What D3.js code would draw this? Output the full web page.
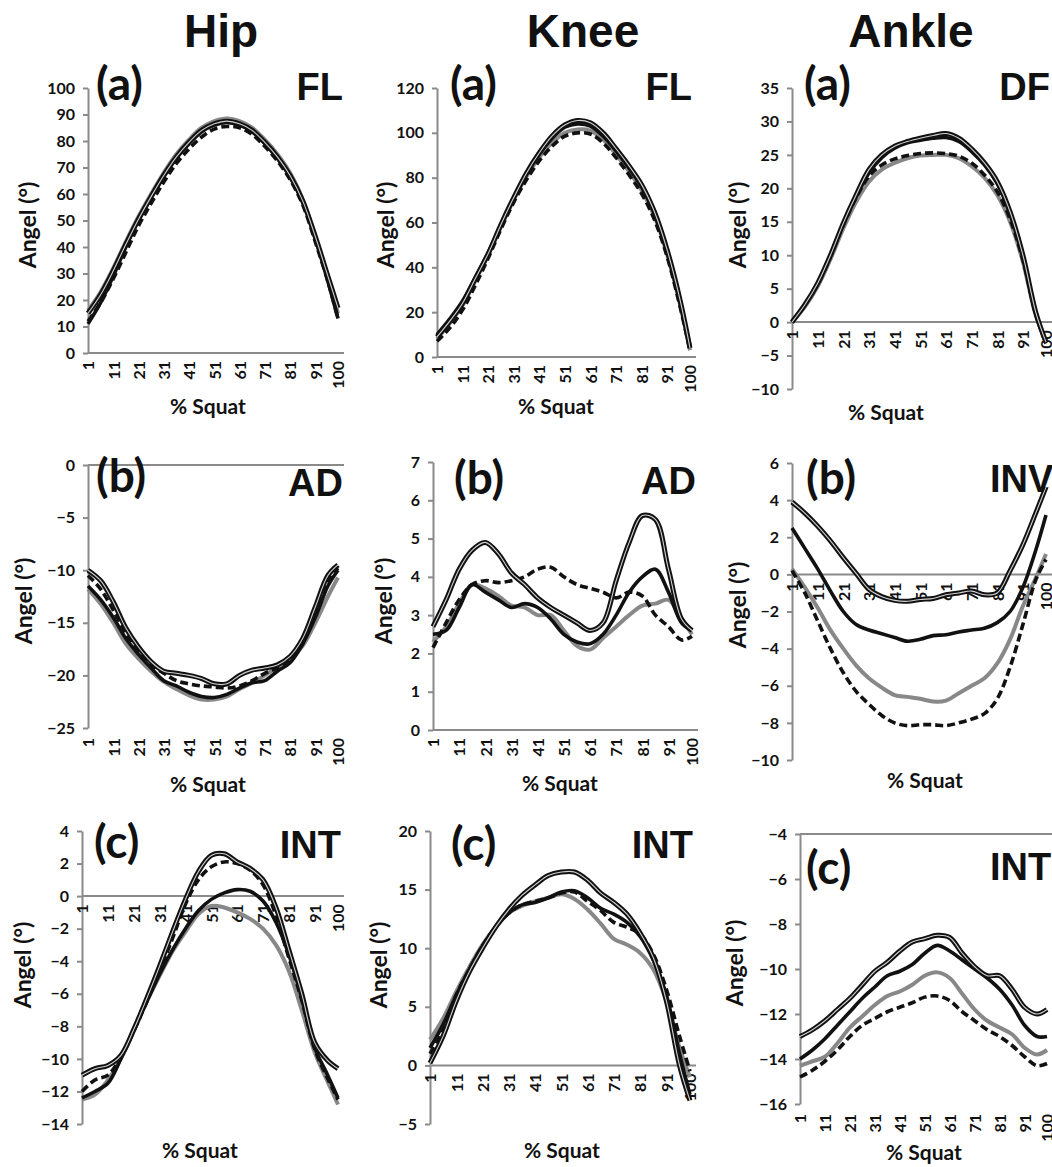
<!DOCTYPE html>
<html>
<head>
<meta charset="utf-8">
<script src="https://cdn.jsdelivr.net/npm/d3@7"></script>
<style>
body { margin: 0; background: #fff; }
text { font-family: Lato, 'Open Sans', sans-serif; font-weight: 700; fill: #111; }
.big { font-family: 'Liberation Sans', Arial, sans-serif; }
</style>
</head>
<body>
<div id="chart"></div>
<script>
const pct = [1, 6, 11, 16, 21, 26, 31, 36, 41, 46, 51, 56, 61, 66, 71, 76, 81, 86, 91, 96, 100]
const xTicks = [1, 11, 21, 31, 41, 51, 61, 71, 81, 91, 100]
const joints = ['Hip', 'Knee', 'Ankle']

// Hip (a) FL
const hipFlBlack1 = [15, 22, 31, 41, 50.5, 59, 67, 74, 79.5, 84, 86.5, 87.5, 86.5, 84, 79.5, 74, 67, 57.5, 44, 29, 17]
const hipFlBlack2 = [11, 19, 29, 40, 50, 58.5, 66.5, 73.5, 79, 83.5, 86, 87, 86, 83.5, 79, 73.5, 66.5, 57, 43, 27, 13]
const hipFlGray = [16, 23, 32, 42, 51.5, 60, 68, 75, 80.5, 85, 87.5, 88.5, 87.5, 85, 80.5, 75, 68, 58, 44, 28, 15]
const hipFlDash = [12, 19, 28, 38, 48, 56.5, 64.5, 71.5, 77, 81.5, 84.5, 85.5, 85, 82.5, 78, 72.5, 65.5, 56, 42, 27, 13]

// Knee (a) FL
const kneeFlBlack1 = [9, 16, 24, 35, 46, 59, 71, 82, 91, 98.5, 103.5, 105.5, 104.5, 100, 93, 85.5, 77, 65, 48, 26, 4]
const kneeFlBlack2 = [10, 17, 25, 35.5, 46.5, 59, 71, 81.5, 90.5, 97.5, 102.5, 104, 103, 98.5, 92, 84.5, 76, 64, 47, 25, 5]
const kneeFlGray = [8, 15, 23, 34, 45.5, 58, 70, 80.5, 89, 95.5, 100, 101.5, 101, 97, 90.5, 83, 74.5, 63, 46, 24, 3]
const kneeFlDash = [7, 13, 21, 32, 44, 57, 69, 79, 87.5, 94, 98.5, 100, 99.5, 95.5, 89, 81.5, 73, 61.5, 45, 23, 3]

// Ankle (a) DF
const ankleDfBlack1 = [0, 2.6, 5.8, 10, 14.8, 19, 22.8, 25, 26.3, 27, 27.5, 27.9, 28.2, 27.5, 25.9, 23.8, 21, 16.5, 10, 1.5, -3]
const ankleDfBlack2 = [0, 2.6, 5.8, 10, 14.7, 18.8, 22.3, 24.6, 26, 26.8, 27.2, 27.5, 27.6, 27, 25.5, 23.5, 20.7, 16.2, 9.7, 1.2, -3.2]
const ankleDfGray = [0, 2.3, 5.3, 9.4, 14, 18, 21, 22.8, 23.8, 24.5, 24.9, 25, 25, 24.5, 23.3, 21.6, 19, 15, 9, 1, -2.8]
const ankleDfDash = [0, 2.5, 5.6, 9.8, 14.5, 18.6, 21.8, 23.5, 24.4, 24.9, 25.2, 25.3, 25.2, 24.8, 23.8, 22, 19.5, 15.4, 9.3, 1.2, -3]

// Hip (b) AD
const hipAdBlack1 = [-10, -11, -13, -15.5, -17.3, -18.7, -19.6, -19.8, -20, -20.3, -20.8, -20.8, -20, -19.5, -19.3, -19, -18.2, -16.5, -13.5, -10.5, -9.5]
const hipAdBlack2 = [-11.5, -12.8, -14.5, -16.5, -18, -19.3, -20.5, -21, -21.6, -22, -22.1, -21.8, -21.2, -20.7, -20.5, -19.6, -18.8, -17, -14.5, -11.5, -10]
const hipAdGray = [-11.8, -13.2, -15, -17, -18.4, -19.6, -20.6, -21.3, -21.9, -22.3, -22.3, -22, -21.3, -20.7, -20, -19.2, -18.5, -17.2, -15, -12.5, -10.7]
const hipAdDash = [-10.5, -11.8, -13.8, -16, -17.8, -19, -19.8, -20.5, -20.8, -21, -21.1, -21.2, -21, -20.5, -19.8, -19.3, -18.6, -17, -14, -11, -9.8]

// Knee (b) AD
const kneeAdBlack1 = [2.7, 3.4, 4.2, 4.7, 4.9, 4.6, 4.1, 3.8, 3.45, 3.2, 3, 2.8, 2.6, 2.8, 3.9, 4.9, 5.6, 5.5, 4.2, 2.9, 2.6]
const kneeAdBlack2 = [2.5, 2.6, 3.2, 3.8, 3.6, 3.4, 3.2, 3.3, 3.2, 2.9, 2.5, 2.3, 2.25, 2.5, 3, 3.6, 4, 4.2, 3.6, 2.8, 2.6]
const kneeAdGray = [2.3, 2.7, 3.3, 3.8, 3.7, 3.5, 3.25, 3.2, 3, 3, 2.6, 2.2, 2.1, 2.4, 2.7, 3, 3.25, 3.3, 3.4, 2.9, 2.5]
const kneeAdDash = [2.15, 2.8, 3.4, 3.8, 3.9, 3.85, 3.9, 4, 4.2, 4.25, 4, 3.8, 3.7, 3.6, 3.45, 3.6, 3.5, 3, 2.7, 2.35, 2.45]

// Ankle (b) INV
const ankleInvBlack1 = [3.9, 3.3, 2.6, 1.8, 0.9, 0.05, -0.8, -1.2, -1.4, -1.45, -1.35, -1.3, -1.1, -1, -0.9, -1.1, -1, 0.2, 1.6, 3.3, 4.7]
const ankleInvBlack2 = [2.5, 1.4, 0.3, -0.9, -2, -2.7, -3, -3.2, -3.4, -3.6, -3.5, -3.3, -3.25, -3.1, -3, -2.9, -2.6, -2, -0.7, 1.3, 3.2]
const ankleInvGray = [0.3, -0.7, -1.8, -3, -4, -4.9, -5.6, -6.1, -6.5, -6.6, -6.7, -6.85, -6.8, -6.4, -6, -5.6, -4.8, -3.5, -1.7, -0.2, 1.1]
const ankleInvDash = [0.2, -1, -2.5, -4, -5.3, -6.3, -7, -7.6, -8, -8.15, -8.1, -8.1, -8.15, -8, -7.8, -7.5, -6.7, -5, -2.7, -0.3, 0.8]

// Hip (c) INT
const hipIntBlack1 = [-11, -10.6, -10.4, -9.8, -8.2, -6.3, -4.3, -2.2, -0.2, 1.5, 2.5, 2.6, 2.1, 1.7, 1, -0.7, -3.3, -6, -9, -10.1, -10.6]
const hipIntBlack2 = [-12.4, -12, -11.5, -10, -8.2, -6.5, -4.8, -3.3, -2, -0.9, -0.2, 0.2, 0.4, 0.3, -0.3, -1.6, -3.6, -6.3, -9.3, -11, -12.4]
const hipIntGray = [-12.5, -12.2, -11.3, -10, -8.3, -6.5, -4.9, -3.4, -2.2, -1.1, -0.6, -0.7, -1, -1.4, -2, -3, -4.6, -7, -9.6, -11.4, -12.8]
const hipIntDash = [-12, -11.3, -11, -9.9, -8.3, -6.5, -4.6, -2.6, -0.5, 1, 1.8, 2.1, 2, 1.6, 0.7, -1.2, -3.8, -6.4, -9.4, -11.2, -12.5]

// Knee (c) INT
const kneeIntBlack1 = [0.2, 2.5, 5.5, 8, 10, 11.8, 13.3, 14.5, 15.4, 16.2, 16.5, 16.5, 15.8, 14.7, 13.9, 12.9, 11.3, 9.2, 5.5, 0, -3]
const kneeIntBlack2 = [1.5, 3.5, 6, 8.2, 10.2, 11.8, 13, 13.7, 13.9, 14.3, 14.8, 14.9, 14.3, 13.4, 12.9, 12.2, 11, 9, 6, 1, -2.5]
const kneeIntGray = [2.2, 4, 6.3, 8.4, 10.3, 11.8, 13, 13.6, 14, 14.3, 14.6, 14.2, 13.3, 12.1, 10.8, 10.3, 9.6, 8.2, 5.5, 1.5, -1]
const kneeIntDash = [1, 3, 6, 8.2, 10.2, 11.8, 13, 13.7, 14, 14.3, 14.7, 14.8, 14, 13.2, 12.2, 11.8, 11.2, 9.5, 6.5, 2.5, -0.5]

// Ankle (c) INT
const ankleIntBlack1 = [-13, -12.7, -12.3, -11.8, -11.3, -10.7, -10.1, -9.7, -9.2, -8.8, -8.65, -8.5, -8.6, -9.3, -9.9, -10.3, -10.3, -10.9, -11.7, -12, -11.8]
const ankleIntBlack2 = [-14, -13.6, -13.1, -12.5, -11.9, -11.3, -10.8, -10.3, -10.1, -9.8, -9.3, -8.95, -9.2, -9.6, -10, -10.4, -10.9, -11.6, -12.5, -13, -13]
const ankleIntGray = [-14.3, -14.1, -13.9, -13.3, -12.6, -12.1, -11.6, -11.2, -11, -10.7, -10.3, -10.15, -10.4, -11.1, -11.8, -12.3, -12.6, -12.9, -13.5, -13.8, -13.6]
const ankleIntDash = [-14.8, -14.5, -14.1, -13.6, -13, -12.5, -12.2, -11.9, -11.7, -11.5, -11.25, -11.2, -11.4, -11.9, -12.3, -12.7, -13, -13.4, -13.9, -14.3, -14.2]

// layout of the nine panels
const panels = [
    {letter: '(a)', motion: 'FL', left: 88, right: 338, top: 88, bottom: 353, domain: [0, 100], step: 10,
     lx: 96, ly: 100, mx: 343, my: 100, ax: 28, ay: 225, sx: 208, sy: 414,
     series: [hipFlBlack1, hipFlBlack2, hipFlGray, hipFlDash]},
    {letter: '(a)', motion: 'FL', left: 437, right: 690, top: 88, bottom: 357, domain: [0, 120], step: 20,
     lx: 450, ly: 100, mx: 692, my: 100, ax: 386, ay: 225, sx: 556, sy: 414,
     series: [kneeFlBlack1, kneeFlBlack2, kneeFlGray, kneeFlDash]},
    {letter: '(a)', motion: 'DF', left: 792, right: 1046, top: 88, bottom: 389, domain: [-10, 35], step: 5,
     lx: 804, ly: 100, mx: 1050, my: 100, ax: 738, ay: 225, sx: 886, sy: 420,
     series: [ankleDfBlack1, ankleDfBlack2, ankleDfGray, ankleDfDash]},
    {letter: '(b)', motion: 'AD', left: 88, right: 338, top: 465, bottom: 728, domain: [-25, 0], step: 5,
     lx: 96, ly: 492, mx: 343, my: 496, ax: 24, ay: 601, sx: 208, sy: 792,
     series: [hipAdBlack1, hipAdBlack2, hipAdGray, hipAdDash]},
    {letter: '(b)', motion: 'AD', left: 433, right: 692, top: 462, bottom: 730, domain: [0, 7], step: 1,
     lx: 454, ly: 494, mx: 696, my: 494, ax: 384, ay: 601, sx: 560, sy: 791,
     series: [kneeAdBlack1, kneeAdBlack2, kneeAdGray, kneeAdDash]},
    {letter: '(b)', motion: 'INV', left: 792, right: 1046, top: 463, bottom: 760, domain: [-10, 6], step: 2,
     lx: 806, ly: 494, mx: 990, my: 492, anchor: 'start', ax: 738, ay: 605, sx: 925, sy: 788,
     series: [ankleInvBlack1, ankleInvBlack2, ankleInvGray, ankleInvDash]},
    {letter: '(c)', motion: 'INT', left: 82, right: 338, top: 831, bottom: 1124, domain: [-14, 4], step: 2,
     lx: 94, ly: 858, mx: 341, my: 858, ax: 23, ay: 965, sx: 200, sy: 1158,
     series: [hipIntBlack1, hipIntBlack2, hipIntGray, hipIntDash]},
    {letter: '(c)', motion: 'INT', left: 430, right: 690, top: 831, bottom: 1124, domain: [-5, 20], step: 5,
     lx: 451, ly: 860, mx: 693, my: 858, ax: 379, ay: 965, sx: 562, sy: 1158,
     series: [kneeIntBlack1, kneeIntBlack2, kneeIntGray, kneeIntDash]},
    {letter: '(c)', motion: 'INT', left: 800, right: 1047, top: 834, bottom: 1104, domain: [-16, -4], step: 2,
     lx: 806, ly: 884, mx: 990, my: 880, anchor: 'start', ax: 735, ay: 963, sx: 924, sy: 1160,
     series: [ankleIntBlack1, ankleIntBlack2, ankleIntGray, ankleIntDash]}
]

// order of drawing: gray, dashed, black 2, black 1 (outlined)
const styles = [
    {color: '#111', width: 5, inner: true},
    {color: '#111', width: 3.6},
    {color: '#888', width: 4},
    {color: '#111', width: 3.6, dash: '8,4'}
]
const drawOrder = [2, 3, 1, 0]
const axisColor = '#8a8a8a'
const tickFont = '16px'

const svg = d3.select('#chart').append('svg')
    .attr('width', 1052)
    .attr('height', 1167)

// column titles
svg.selectAll('.title')
    .data(joints)
    .enter()
    .append('text')
    .attr('class', 'big')
    .attr('x', (d, i) => [221, 583, 911][i])
    .attr('y', 47)
    .attr('text-anchor', 'middle')
    .style('font-size', '46px')
    .text(d => d)

panels.forEach(p => {
    const x = d3.scaleLinear().domain([1, 100]).range([p.left, p.right])
    const y = d3.scaleLinear().domain(p.domain).range([p.bottom, p.top])
    const g = svg.append('g')

    // where the category axis crosses: at 0, or at the top when all negative
    const cross = p.domain[1] <= 0 ? p.domain[1] : Math.max(p.domain[0], 0)
    const labelsLow = cross == p.domain[1]

    // y axis
    const yAxis = g.append('g')
        .attr('transform', 'translate(' + p.left + ',0)')
        .call(d3.axisLeft(y)
            .tickValues(d3.range(p.domain[0], p.domain[1] + p.step / 2, p.step))
            .tickFormat(d3.format('d'))
            .tickSize(5)
            .tickSizeOuter(0)
            .tickPadding(8))
    yAxis.selectAll('path, line').attr('stroke', axisColor).attr('stroke-width', 2)
    yAxis.selectAll('text').style('font-size', tickFont).style('font-family', 'Lato, sans-serif').attr('fill', '#111')

    // x axis line
    g.append('line')
        .attr('x1', p.left)
        .attr('x2', p.right + 6)
        .attr('y1', y(cross))
        .attr('y2', y(cross))
        .attr('stroke', axisColor)
        .attr('stroke-width', 2)

    // x tick labels (rotated)
    const xLab = g.append('g')
        .attr('transform', 'translate(0,' + (labelsLow ? p.bottom + 2 : y(cross)) + ')')
        .call(d3.axisBottom(x).tickValues(xTicks).tickSize(0).tickFormat(d3.format('d')))
    xLab.select('.domain').remove()
    xLab.selectAll('text')
        .attr('transform', 'rotate(-90)')
        .attr('x', -8)
        .attr('y', 0)
        .attr('dy', '0.36em')
        .style('text-anchor', 'end')
        .style('font-size', tickFont)
        .style('font-family', 'Lato, sans-serif')
        .attr('fill', '#111')

    // curves
    const line = d3.line()
        .x((d, i) => x(pct[i]))
        .y(d => y(d))
        .curve(d3.curveCatmullRom)
    drawOrder.forEach(k => {
        const s = styles[k]
        g.append('path')
            .datum(p.series[k])
            .attr('d', line)
            .attr('fill', 'none')
            .attr('stroke', s.color)
            .attr('stroke-width', s.width)
            .attr('stroke-dasharray', s.dash || null)
            .attr('stroke-linejoin', 'round')
        if (s.inner) {
            g.append('path')
                .datum(p.series[k])
                .attr('d', line)
                .attr('fill', 'none')
                .attr('stroke', '#fff')
                .attr('stroke-width', 1.1)
                .attr('opacity', 0.8)
        }
    })

    // labels
    g.append('text')
        .attr('x', p.lx)
        .attr('y', p.ly)
        .style('font-size', '46px')
        .text(p.letter)
    g.append('text')
        .attr('class', 'big')
        .attr('x', p.mx)
        .attr('y', p.my)
        .attr('text-anchor', p.anchor || 'end')
        .style('font-size', '38px')
        .text(p.motion)
    g.append('text')
        .attr('transform', 'translate(' + p.ax + ',' + p.ay + ') rotate(-90)')
        .attr('text-anchor', 'middle')
        .attr('dy', '0.35em')
        .style('font-size', '23px')
        .text('Angel (°)')
    g.append('text')
        .attr('x', p.sx)
        .attr('y', p.sy)
        .attr('text-anchor', 'middle')
        .style('font-size', '21px')
        .text('% Squat')
})
</script>
</body>
</html>
